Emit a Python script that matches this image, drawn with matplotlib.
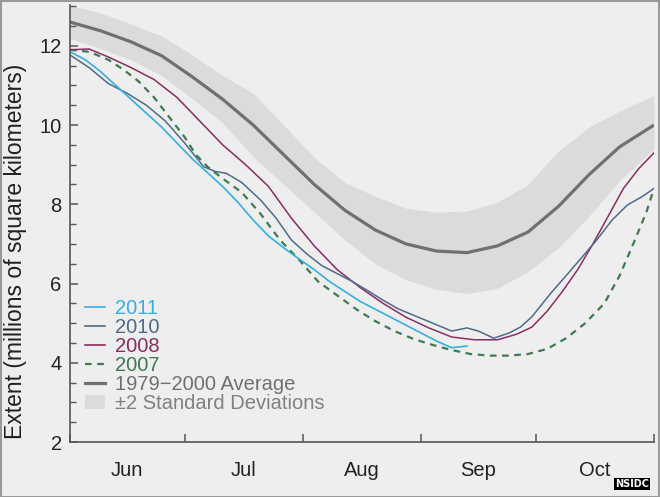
import matplotlib.pyplot as plt
from matplotlib.patches import Patch, Rectangle
from matplotlib.lines import Line2D

plt.rcParams['font.family'] = ['Liberation Sans', 'DejaVu Sans']

# days since 1 June
month_edges = [0, 30, 61, 92, 122, 153]
month_mid = [15, 45.5, 76.5, 107, 137.5]
month_names = ["Jun", "Jul", "Aug", "Sep", "Oct"]

avg_days = [0, 8, 16, 24, 32, 40, 48, 56, 64, 72, 80, 88, 96, 104, 112, 120, 128, 136, 144, 153]
avg_vals = [12.6, 12.38, 12.1, 11.75, 11.22, 10.65, 10.0, 9.25, 8.5, 7.85, 7.35, 7.0, 6.82, 6.78,
            6.95, 7.3, 7.95, 8.75, 9.45, 10.0]
upper_vals = [13.02, 12.83, 12.55, 12.25, 11.77, 11.25, 10.8, 10.0, 9.18, 8.55, 8.2, 7.9, 7.8, 7.83,
              8.05, 8.5, 9.35, 9.95, 10.35, 10.75]
lower_vals = [12.18, 11.93, 11.65, 11.25, 10.67, 10.05, 9.2, 8.5, 7.8, 7.1, 6.5, 6.1, 5.85, 5.75,
              5.88, 6.3, 6.9, 7.7, 8.6, 9.4]

d2011 = [0, 4, 8, 12, 16, 20, 24, 28, 32, 36, 40, 44, 48, 52, 56, 60, 64, 68, 72, 76, 80, 84, 88, 92,
         96, 100, 104]
v2011 = [11.85, 11.65, 11.35, 11.0, 10.65, 10.3, 9.95, 9.55, 9.15, 8.8, 8.45, 8.05, 7.6, 7.2, 6.9,
         6.62, 6.35, 6.05, 5.8, 5.55, 5.35, 5.15, 4.95, 4.75, 4.55, 4.38, 4.42]

d2010 = [0, 5, 10, 15, 20, 25, 30, 35, 38, 41, 45, 50, 54, 58, 62, 66, 70, 74, 78, 82, 86, 90, 95,
         100, 104, 107, 111, 115, 118, 121, 126, 130, 134, 138, 142, 146, 150, 153]
v2010 = [11.77, 11.45, 11.05, 10.8, 10.5, 10.1, 9.55, 8.95, 8.83, 8.78, 8.55, 8.1, 7.65, 7.1, 6.75,
         6.45, 6.25, 6.05, 5.82, 5.58, 5.36, 5.2, 5.0, 4.8, 4.88, 4.8, 4.62, 4.75, 4.9, 5.16, 5.76,
         6.2, 6.65, 7.1, 7.6, 7.98, 8.2, 8.4]

d2008 = [0, 5, 10, 16, 22, 28, 34, 40, 46, 52, 58, 64, 70, 76, 82, 88, 94, 100, 106, 112, 117, 121,
         125, 129, 133, 137, 141, 145, 149, 153]
v2008 = [11.9, 11.92, 11.72, 11.45, 11.15, 10.7, 10.1, 9.5, 9.0, 8.45, 7.65, 6.95, 6.35, 5.9, 5.5,
         5.15, 4.88, 4.65, 4.58, 4.58, 4.72, 4.9, 5.3, 5.8, 6.35, 7.0, 7.7, 8.4, 8.9, 9.3]

d2007 = [0, 5, 10, 14, 18, 22, 26, 30, 33, 36, 40, 45, 50, 55, 60, 65, 70, 75, 80, 85, 90, 95, 100,
         105, 110, 115, 120, 125, 130, 135, 140, 144, 148, 151, 153]
v2007 = [11.9, 11.85, 11.65, 11.4, 11.1, 10.7, 10.2, 9.7, 9.25, 8.95, 8.65, 8.3, 7.75, 7.1, 6.6,
         6.05, 5.7, 5.35, 5.05, 4.8, 4.6, 4.45, 4.32, 4.22, 4.18, 4.18, 4.22, 4.35, 4.62, 5.0, 5.5,
         6.2, 7.1, 7.8, 8.4]

bg = "#eeeeee"
c2011 = "#35aee2"
c2010 = "#4e6b8a"
c2008 = "#8a2d62"
c2007 = "#3f7a52"
cavg = "#707070"
cband = "#dbdbdb"

fig = plt.figure(figsize=(6.6, 4.97), dpi=100, facecolor=bg)
ax = fig.add_axes([70 / 660, 1 - 442 / 497, 584 / 660, 437 / 497])
ax.set_facecolor(bg)

ax.fill_between(avg_days, lower_vals, upper_vals, color=cband, lw=0)
ax.plot(avg_days, avg_vals, color=cavg, lw=2.3, solid_capstyle="butt")
ax.plot(d2007, v2007, color=c2007, lw=1.6, dashes=(3, 2.5))
ax.plot(d2008, v2008, color=c2008, lw=1.1)
ax.plot(d2010, v2010, color=c2010, lw=1.1)
ax.plot(d2011, v2011, color=c2011, lw=1.2)

ax.set_xlim(0, 153)
ax.set_ylim(2, 13.03)
for s in ["top", "right"]:
    ax.spines[s].set_visible(False)
for s in ["left", "bottom"]:
    ax.spines[s].set_color("#555555")
    ax.spines[s].set_linewidth(1.2)

ax.set_yticks([2, 4, 6, 8, 10, 12])
ax.set_yticks([x / 2 for x in range(5, 27) if x % 4 != 0], minor=True)
ax.tick_params(axis="y", which="major", direction="in", length=6, width=1.1, color="#555555",
               labelsize=14.5, labelcolor="#222222", pad=6)
ax.tick_params(axis="y", which="minor", direction="in", length=4, width=1.0, color="#555555")

ax.set_xticks(month_edges)
ax.set_xticklabels([])
ax.set_xticks(month_mid, minor=True)
ax.set_xticklabels(month_names, minor=True)
ax.tick_params(axis="x", which="major", direction="in", length=6, width=1.1, color="#555555")
ax.tick_params(axis="x", which="minor", length=0, labelsize=14.5, labelcolor="#222222", pad=14)

fig.text(16 / 660, 1 - 251 / 497, "Extent (millions of square kilometers)", fontsize=16.5,
         color="#222222", rotation=90, ha="center", va="center")

handles = [
    Line2D([], [], color=c2011, lw=1.2),
    Line2D([], [], color=c2010, lw=1.2),
    Line2D([], [], color=c2008, lw=1.2),
    Line2D([], [], color=c2007, lw=1.6, dashes=(3, 2.5)),
    Line2D([], [], color=cavg, lw=2.3),
    Patch(facecolor=cband, edgecolor="none"),
]
labels = ["2011", "2010", "2008", "2007", "1979\u22122000 Average", "\u00b12 Standard Deviations"]
ax.legend(handles, labels, loc="lower left", bbox_to_anchor=(0.026, 0.067), frameon=False,
          fontsize=14.5, labelspacing=0.0, handlelength=1.0, handletextpad=0.5, borderpad=0,
          borderaxespad=0,
          labelcolor=[c2011, c2010, c2008, c2007, "#707070", "#808080"])

# NSIDC badge
fig.text(632 / 660, 1 - 484 / 497, "NSIDC", color="white", fontsize=7, fontweight="bold",
         ha="center", va="center", family="DejaVu Sans",
         bbox=dict(boxstyle="square,pad=0.15", facecolor="black", edgecolor="none"))

fig.patches.append(Rectangle((0.001, 0.001), 0.997, 0.997, transform=fig.transFigure,
                             fill=False, edgecolor="#999999", lw=1.5))

fig.savefig("out.png", dpi=100, facecolor=bg)
